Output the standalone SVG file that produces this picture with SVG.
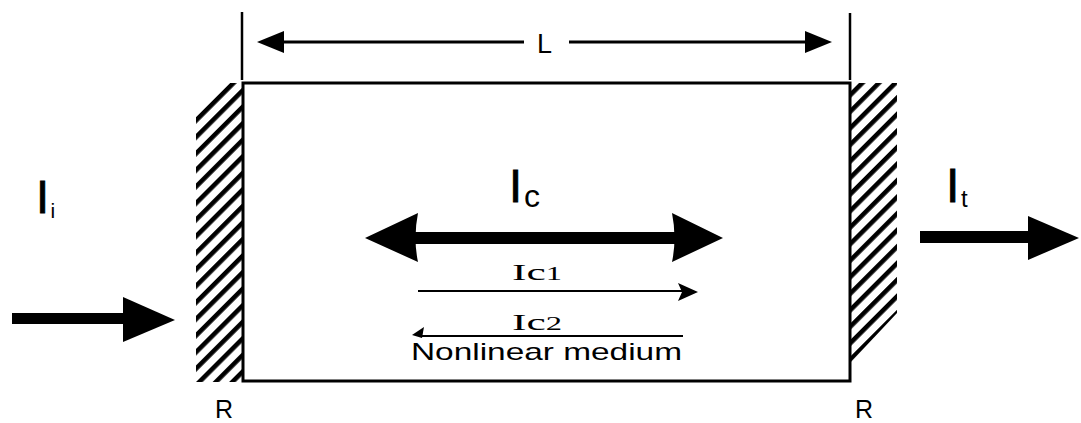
<svg xmlns="http://www.w3.org/2000/svg" width="1081" height="423" viewBox="0 0 1081 423">
<style>
.sans{font-family:"Liberation Sans",Arial,sans-serif;fill:#000}
.hand{font-family:"Liberation Serif","Times New Roman",serif;fill:#000}
.ln{stroke:#000;fill:none}
.fill{fill:#000;stroke:none}
.bold{stroke:#000;stroke-width:0.8}
</style>
<defs>
<pattern id="hatch" patternUnits="userSpaceOnUse" width="11.7" height="20" patternTransform="rotate(45 243 83)">
<rect x="0" y="0" width="4.6" height="20" fill="#000"/>
</pattern>
</defs>
<rect width="1081" height="423" fill="#fff"/>

<g id="medium">
<rect x="243" y="83" width="607" height="298" class="ln" stroke-width="3"/>
<text class="sans" x="411" y="360" font-size="24" textLength="271" lengthAdjust="spacingAndGlyphs">Nonlinear medium</text>
</g>

<g id="mirror-left">
<polygon points="243,83 243,382 196,382 196,112 222,83" fill="url(#hatch)"/>
<text class="sans" x="215" y="418" font-size="25">R</text>
</g>

<g id="mirror-right">
<polygon points="851,83 897,83 897,313 851,362" fill="url(#hatch)"/>
<text class="sans" x="855" y="418" font-size="25">R</text>
</g>

<g id="dimension-L">
<line x1="242" y1="12" x2="242" y2="80" class="ln" stroke-width="2.5"/>
<line x1="850" y1="13" x2="850" y2="80" class="ln" stroke-width="2.5"/>
<text class="sans" x="537" y="53" font-size="27">L</text>
</g>

<g id="label-Ii">
<text class="sans bold" x="36" y="213" font-size="47">I</text>
<text class="sans" x="50.5" y="218" font-size="21">i</text>
</g>

<g id="label-It">
<text class="sans bold" x="946" y="202" font-size="48">I</text>
<text class="sans" x="961" y="207" font-size="24">t</text>
</g>

<g id="label-Ic">
<text class="sans bold" x="509" y="202" font-size="47">I</text>
<text class="sans" x="524" y="207" font-size="32">c</text>
</g>

<g id="label-Ic1">
<text class="hand" x="512" y="280" font-size="24" textLength="50" lengthAdjust="spacingAndGlyphs">Ic<tspan font-size="18">1</tspan></text>
</g>

<g id="label-Ic2">
<text class="hand" x="512" y="330" font-size="24" textLength="50" lengthAdjust="spacingAndGlyphs">Ic<tspan font-size="18">2</tspan></text>
</g>

<g id="connectors">
<line x1="280" y1="42" x2="524" y2="42" class="ln" stroke-width="3"/>
<line x1="569" y1="42" x2="808" y2="42" class="ln" stroke-width="3"/>
<polygon points="257,42 284,31 284,53" class="fill"/>
<polygon points="832,42 805,31 805,53" class="fill"/>
<rect x="12" y="313" width="113" height="11" class="fill"/>
<polygon points="123,297 175,320 123,342" class="fill"/>
<rect x="920" y="231" width="110" height="12" class="fill"/>
<polygon points="1028,216 1079,238 1028,260" class="fill"/>
<rect x="415" y="232" width="260" height="12" class="fill"/>
<path d="M365,238 L418,213 Q413,238 418,262 Z" class="fill"/>
<path d="M723,238 L672,213 Q677,238 672,262 Z" class="fill"/>
<line x1="418" y1="291" x2="684" y2="291" class="ln" stroke-width="2"/>
<polygon points="698,292 678,283 682,292 678,301" class="fill"/>
<line x1="420" y1="336" x2="683" y2="336" class="ln" stroke-width="2"/>
<polygon points="412,335 424,327 422,338" class="fill"/>
</g>
</svg>
